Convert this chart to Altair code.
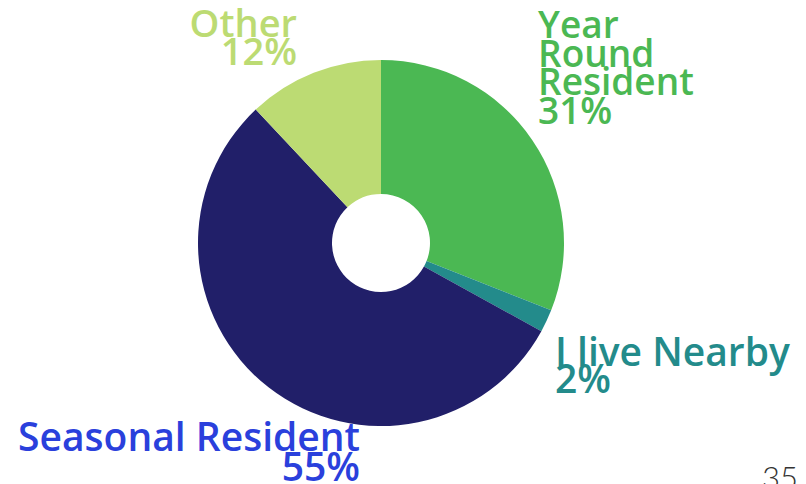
import altair as alt
import pandas as pd

# ---- data ----
categories = ["Year Round Resident", "I live Nearby", "Seasonal Resident", "Other"]
values = [31, 2, 55, 12]
slice_colors = ["#4bb853", "#238b8b", "#211f69", "#bcdb73"]
label_lines = ["Year\nRound\nResident", "I live Nearby", "Seasonal Resident", "Other"]
label_colors = ["#4bb853", "#238b8b", "#2a40dc", "#bcdb73"]
page_number = "35"

# ---- layout (plot coords = page coords - 8) ----
cx, cy = 373, 235
outer_r, inner_r = 183, 49
label_x = [530, 547, 352, 289]
label_y = [30, 358, 443, 29]
label_align = ["left", "left", "right", "right"]
label_size = [37, 39, 39, 38]
label_lh = [28.5, 27, 30, 28]
FONT = "Open Sans"

df = pd.DataFrame({"category": categories, "value": values,
                   "order": list(range(len(categories)))})

arc = alt.Chart(df).mark_arc(outerRadius=outer_r, innerRadius=inner_r).encode(
    theta=alt.Theta("value:Q", stack=True),
    color=alt.Color("category:N",
                    scale=alt.Scale(domain=categories, range=slice_colors),
                    legend=None),
    order=alt.Order("order:Q"),
    x=alt.value(cx), y=alt.value(cy),
)

layers = [arc]
for i in range(len(categories)):
    txt = f"{label_lines[i]}\n{values[i]}%"
    t = alt.Chart(df).transform_filter(
        alt.datum.category == categories[i]
    ).mark_text(
        align=label_align[i], baseline="alphabetic", lineBreak="\n",
        lineHeight=label_lh[i], fontSize=label_size[i], font=FONT, fontWeight=600,
        color=label_colors[i],
    ).encode(x=alt.value(label_x[i]), y=alt.value(label_y[i]), text=alt.value(txt))
    layers.append(t)

pn = alt.Chart(df).transform_filter(alt.datum.order == 0).mark_text(
    align="right", baseline="alphabetic", fontSize=31, font="Lato",
    fontWeight=300, color="#333333",
).encode(x=alt.value(790), y=alt.value(481), text=alt.value(page_number))
layers.append(pn)

chart = alt.layer(*layers).properties(
    width=790, height=476, padding=0, autosize=alt.AutoSizeParams(type="none")
).configure_view(stroke=None)

chart.save("out.html", embed_options={"renderer": "svg", "actions": False})
